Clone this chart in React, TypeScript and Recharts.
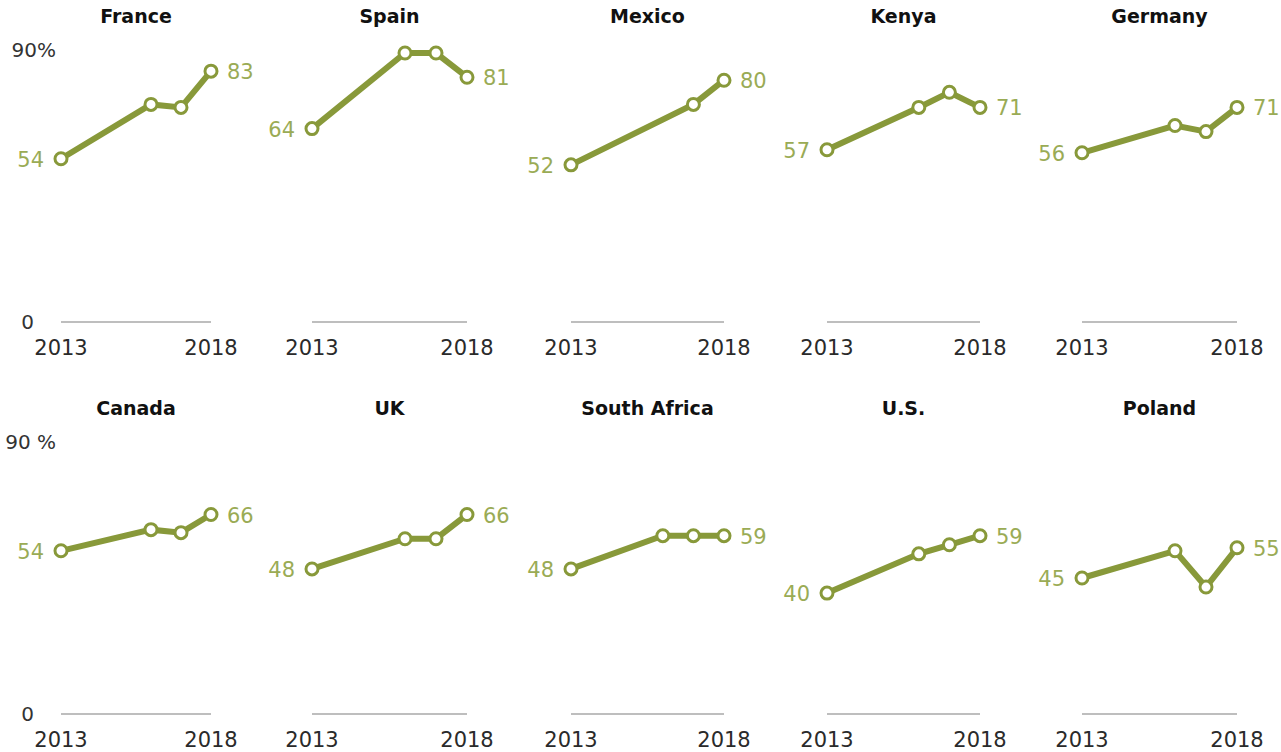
import { LineChart, Line, XAxis, YAxis } from 'recharts'

const years = [2013, 2016, 2017, 2018]
const countries = ['France', 'Spain', 'Mexico', 'Kenya', 'Germany', 'Canada', 'UK', 'South Africa', 'U.S.', 'Poland']

const france = [54, 72, 71, 83]
const spain = [64, 89, 89, 81]
const mexico = [52, null, 72, 80]
const kenya = [57, 71, 76, 71]
const germany = [56, 65, 63, 71]
const canada = [54, 61, 60, 66]
const uk = [48, 58, 58, 66]
const southAfrica = [48, 59, 59, 59]
const us = [40, 53, 56, 59]
const poland = [45, 54, 42, 55]

const seriesValues = [france, spain, mexico, kenya, germany, canada, uk, southAfrica, us, poland]

const xTicks = [2013, 2018]
const yTicks = [0, 90]
const topTickLabels = ['90%', '90 %']

const GREEN = '#88993a'
const LABEL_GREEN = '#9aab55'
const FONT = '"DejaVu Sans", sans-serif'

// layout of the 5 x 2 grid
const plotLefts = [61, 312, 571, 827, 1082]
const plotWidths = [150, 155, 153, 153, 155]
const rowTops = [0, 392]
const Y_AXIS_W = 60
const PLOT_TOP = 50
const PLOT_H = 272

function ValueLabel(props: any) {
  const { x, y, value, index, last } = props
  if (value == null) return <g />
  if (index === 0) {
    return (
      <text x={x - 17} y={y + 1} textAnchor="end" dominantBaseline="central" fill={LABEL_GREEN} fontSize={21} fontFamily={FONT}>
        {value}
      </text>
    )
  }
  if (index === last) {
    return (
      <text x={x + 16} y={y + 1} textAnchor="start" dominantBaseline="central" fill={LABEL_GREEN} fontSize={21} fontFamily={FONT}>
        {value}
      </text>
    )
  }
  return <g />
}

function YTick(props: any) {
  const { x, y, payload, show, topLabel } = props
  if (!show) return <g />
  const isTop = payload.value === 90
  return (
    <text x={isTop ? x - 3 : x - 25} y={y} textAnchor="end" dominantBaseline="central" fill="#333" fontSize={20} fontFamily={FONT}>
      {isTop ? topLabel : '0'}
    </text>
  )
}

function Panel({ index }: { index: number }) {
  const row = Math.floor(index / 5)
  const col = index % 5
  const values = seriesValues[index]
  const data = years.map((year, i) => ({ year, value: values[i] }))
  const plotW = plotWidths[col]
  const left = plotLefts[col] - Y_AXIS_W
  const top = rowTops[row]
  return (
    <div style={{ position: 'absolute', left, top }}>
      <div
        style={{
          position: 'absolute',
          left: Y_AXIS_W - 40,
          width: plotW + 80,
          top: 5,
          textAlign: 'center',
          fontFamily: FONT,
          fontWeight: 'bold',
          fontSize: 19,
          color: '#111',
        }}
      >
        {countries[index]}
      </div>
      <LineChart
        width={Y_AXIS_W + plotW + 50}
        height={392}
        data={data}
        margin={{ top: PLOT_TOP, right: 50, bottom: 392 - PLOT_TOP - PLOT_H - 40, left: 0 }}
        style={{ overflow: 'visible' }}
      >
        <XAxis
          dataKey="year"
          type="number"
          domain={[2013, 2018]}
          ticks={xTicks}
          height={40}
          axisLine={{ stroke: '#a8a8a8', strokeWidth: 1.5 }}
          tickLine={false}
          tickSize={0}
          tickMargin={18}
          tick={{ fill: '#2a2a2a', fontSize: 21, fontFamily: FONT }}
        />
        <YAxis
          type="number"
          domain={[0, 90]}
          ticks={yTicks}
          width={Y_AXIS_W}
          axisLine={false}
          tickLine={false}
          tickSize={0}
          tick={<YTick show={col === 0} topLabel={topTickLabels[row]} />}
        />
        <Line
          dataKey="value"
          stroke={GREEN}
          strokeWidth={6}
          connectNulls
          isAnimationActive={false}
          dot={{ r: 6, fill: '#fff', stroke: GREEN, strokeWidth: 3 }}
          label={<ValueLabel last={years.length - 1} />}
        />
      </LineChart>
    </div>
  )
}

export default function App() {
  return (
    <div style={{ position: 'absolute', left: 0, top: 0, width: 1281, height: 752, background: '#fff' }}>
      {countries.map((c, i) => (
        <Panel key={c} index={i} />
      ))}
    </div>
  )
}
